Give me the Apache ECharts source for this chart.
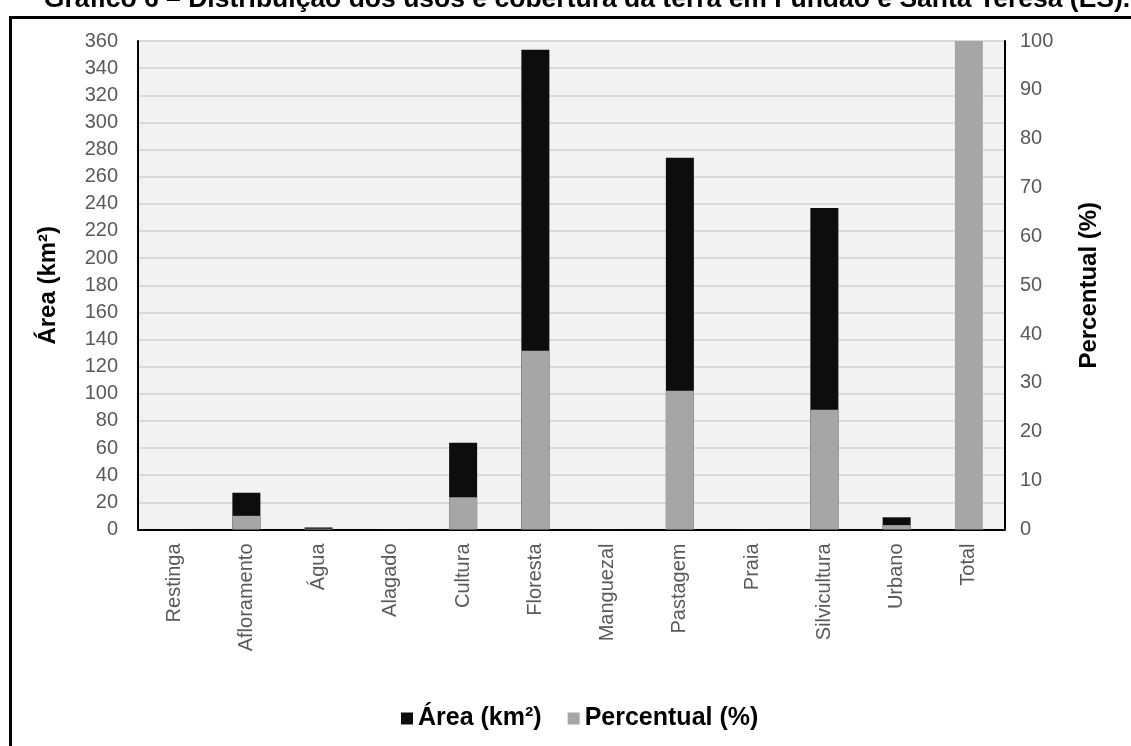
<!DOCTYPE html>
<html>
<head>
<meta charset="utf-8">
<title>Uso e cobertura da terra</title>
<script src="https://cdn.jsdelivr.net/npm/echarts@6/dist/echarts.min.js"></script>
<style>
  html, body { margin: 0; padding: 0; background: #fff; }
  #chart { width: 1131px; height: 746px; }
</style>
</head>
<body>
<div id="chart"></div>
<script>
// Classes de uso e cobertura da terra
const categories = ['Restinga', 'Afloramento', 'Água', 'Alagado', 'Cultura', 'Floresta',
  'Manguezal', 'Pastagem', 'Praia', 'Silvicultura', 'Urbano', 'Total'];

// Área de cada classe (km²); o total não é desenhado em área
const areaKm2 = [0.1, 27, 1.5, 0.1, 64, 353.5, 0.1, 274, 0.1, 237, 9, null];

// Participação de cada classe na área total (%)
const percentual = [0.01, 2.8, 0.16, 0.01, 6.6, 36.6, 0.01, 28.4, 0.01, 24.5, 0.9, 100];

const titleText = 'Gráfico 6 – Distribuição dos usos e cobertura da terra em Fundão e Santa Teresa (ES).';

const labelGray = '#595959';
const gridGray = '#d9d9d9';
const fontFamily = '"Liberation Sans", Arial, sans-serif';

const chart = echarts.init(document.getElementById('chart'), null, { renderer: 'canvas' });

chart.setOption({
  animation: false,
  backgroundColor: '#ffffff',
  graphic: [
    {
      type: 'rect',
      z: 0,
      shape: { x: 10.5, y: 17.5, width: 1300, height: 900 },
      style: { fill: 'none', stroke: '#000', lineWidth: 3 }
    },
    {
      type: 'text',
      z: 10,
      x: 587,
      y: 0,
      style: {
        text: titleText,
        fill: '#000',
        font: 'bold 26.5px ' + fontFamily,
        align: 'center',
        verticalAlign: 'middle'
      }
    }
  ],
  legend: {
    data: ['Área (km²)', 'Percentual (%)'],
    left: 396,
    top: 701,
    icon: 'rect',
    itemWidth: 12,
    itemHeight: 12,
    itemGap: 26,
    textStyle: { color: '#000', fontWeight: 'bold', fontSize: 25, fontFamily: fontFamily }
  },
  grid: {
    left: 138,
    right: 126,
    top: 41,
    bottom: 216.5,
    show: true,
    backgroundColor: '#f2f2f2',
    borderWidth: 0
  },
  xAxis: [
    {
      type: 'category',
      data: categories,
      position: 'bottom',
      axisLine: { show: true, lineStyle: { color: gridGray, width: 2 } },
      axisTick: { show: false },
      axisLabel: {
        rotate: 90,
        margin: 14,
        color: labelGray,
        fontSize: 20,
        fontFamily: fontFamily,
        interval: 0
      }
    },
    {
      type: 'category',
      data: categories,
      position: 'top',
      axisLine: { show: true, lineStyle: { color: '#000', width: 2 } },
      axisTick: { show: false },
      axisLabel: { show: false }
    }
  ],
  yAxis: [
    {
      type: 'value',
      min: 0,
      max: 360,
      interval: 20,
      name: 'Área (km²)',
      nameLocation: 'middle',
      nameRotate: 90,
      nameGap: 78,
      nameTextStyle: { color: '#000', fontWeight: 'bold', fontSize: 24, fontFamily: fontFamily },
      axisLine: { show: true, lineStyle: { color: '#000', width: 2 } },
      axisTick: { show: false },
      axisLabel: { color: labelGray, fontSize: 20, fontFamily: fontFamily, margin: 20 },
      splitLine: { show: true, lineStyle: { color: gridGray, width: 2 } }
    },
    {
      type: 'value',
      min: 0,
      max: 100,
      interval: 10,
      position: 'right',
      name: 'Percentual (%)',
      nameLocation: 'middle',
      nameRotate: 90,
      nameGap: 72,
      nameTextStyle: { color: '#000', fontWeight: 'bold', fontSize: 24, fontFamily: fontFamily },
      axisLine: { show: true, lineStyle: { color: '#000', width: 2 } },
      axisTick: { show: false },
      axisLabel: { color: labelGray, fontSize: 20, fontFamily: fontFamily, margin: 15 },
      splitLine: { show: false }
    }
  ],
  series: [
    {
      name: 'Área (km²)',
      type: 'bar',
      xAxisIndex: 0,
      yAxisIndex: 0,
      data: areaKm2,
      barWidth: 28,
      barGap: '-100%',
      itemStyle: { color: '#0d0d0d' }
    },
    {
      name: 'Percentual (%)',
      type: 'bar',
      xAxisIndex: 0,
      yAxisIndex: 1,
      data: percentual,
      barWidth: 28,
      barGap: '-100%',
      itemStyle: { color: '#a6a6a6' }
    }
  ]
});
</script>
</body>
</html>
